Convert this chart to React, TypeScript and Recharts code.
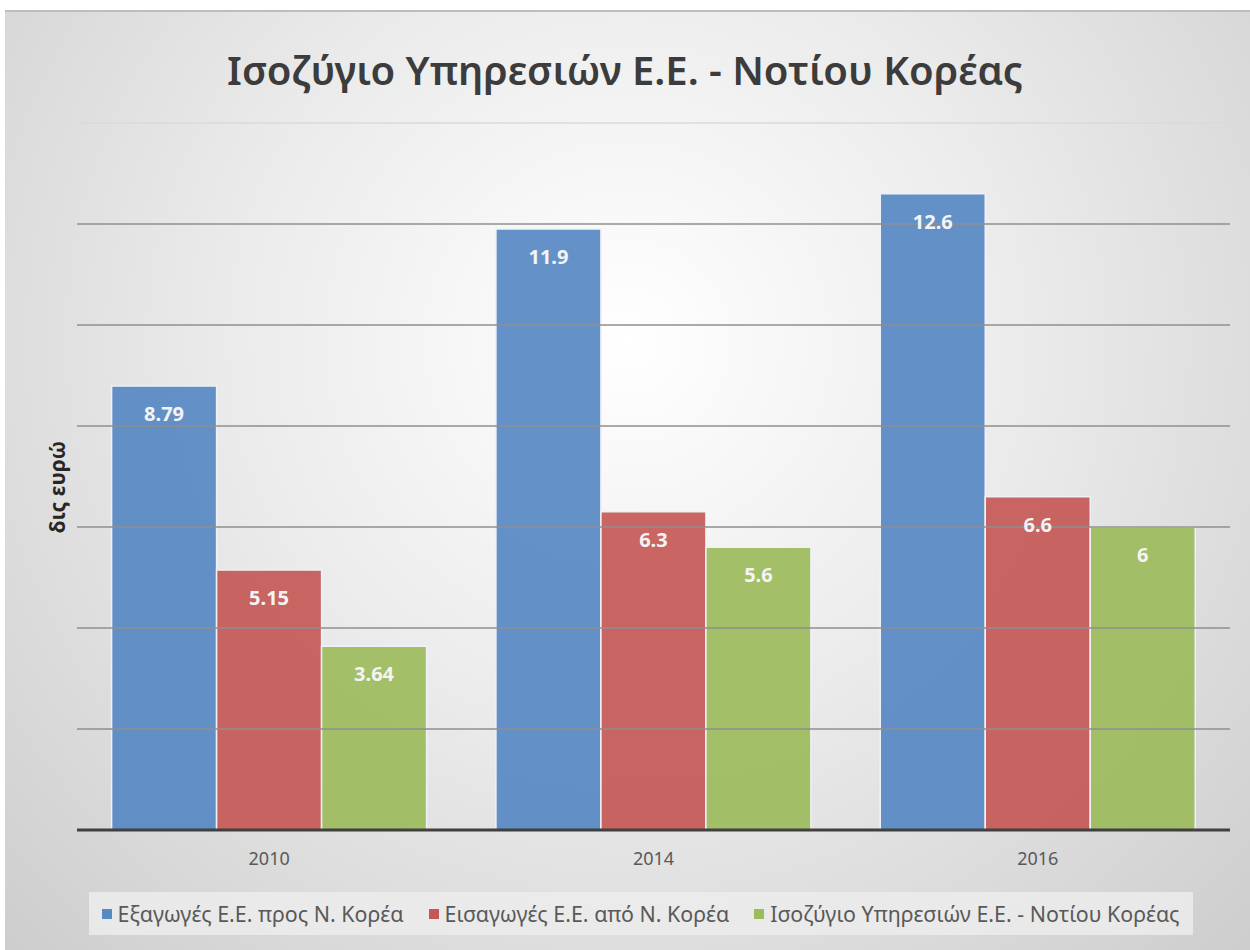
import { BarChart, Bar, XAxis, YAxis, Legend, LabelList, ReferenceLine } from 'recharts'

const years = ['2010', '2014', '2016']
const exportsEU = [8.79, 11.9, 12.6]
const importsEU = [5.15, 6.3, 6.6]
const balance = [3.64, 5.6, 6]
const gridTicks = [2, 4, 6, 8, 10, 12]
const yTitle = 'δις ευρώ'

const seriesNames = {
  exp: 'Εξαγωγές Ε.Ε. προς Ν. Κορέα',
  imp: 'Εισαγωγές Ε.Ε. από Ν. Κορέα',
  bal: 'Ισοζύγιο Υπηρεσιών Ε.Ε. - Νοτίου Κορέας',
}

const data = years.map((y, i) => ({ year: y, exp: exportsEU[i], imp: importsEU[i], bal: balance[i] }))

const FONT = '"Noto Sans", sans-serif'
const colors = { exp: '#5789c3', imp: '#c45856', bal: '#9cbb5c' }

function ChartLegend() {
  const items = [
    { key: 'exp', label: seriesNames.exp },
    { key: 'imp', label: seriesNames.imp },
    { key: 'bal', label: seriesNames.bal },
  ] as const
  return (
    <div style={{
      display: 'flex', alignItems: 'center', gap: 25, background: 'rgba(236,236,236,0.85)',
      height: 43, padding: '0 13px', fontFamily: FONT, fontSize: 21.4, color: '#595959', margin: '0 auto', width: 'fit-content',
      position: 'relative', left: -13,
    }}>
      {items.map(it => (
        <span key={it.key} style={{ display: 'flex', alignItems: 'center', gap: 6 }}>
          <span style={{ width: 10, height: 10, background: colors[it.key], display: 'inline-block' }} />
          {it.label}
        </span>
      ))}
    </div>
  )
}

export default function App() {
  return (
    <div style={{ position: 'absolute', left: 0, top: 0, width: 1250, height: 950, background: '#fff' }}>
      <div style={{
        position: 'absolute', left: 5, top: 10, width: 1245, height: 940,
        background: 'radial-gradient(ellipse at 50% 35%, #ffffff 0%, #ebebeb 45%, #cdcdcd 100%)',
        borderTop: '2px solid #bdbdbd',
      }} />
      <div style={{
        position: 'absolute', left: 0, top: 42, width: 1250, textAlign: 'center',
        fontFamily: FONT, fontSize: 40, fontWeight: 600, color: '#3c3c3c',
      }}>
        Ισοζύγιο Υπηρεσιών Ε.Ε. - Νοτίου Κορέας
      </div>
      <div style={{
        position: 'absolute', left: 57, top: 487, transform: 'translate(-50%, -50%) rotate(-90deg)',
        fontFamily: FONT, fontSize: 21, fontWeight: 700, color: '#262626', whiteSpace: 'nowrap', lineHeight: 1,
      }}>
        {yTitle}
      </div>
      <div style={{ position: 'absolute', left: 0, top: 0 }}>
        <BarChart width={1250} height={950} data={data} barGap={0} barCategoryGap="9%"
          margin={{ top: 123, right: 20, left: 77, bottom: 15 }}>
          <YAxis hide domain={[0, 14]} />
          <XAxis dataKey="year" height={62} tickLine={false} axisLine={{ stroke: '#404040', strokeWidth: 3 }}
            tick={{ fontFamily: FONT, fontSize: 18, fill: '#595959' }} tickMargin={16} />
          <ReferenceLine y={14} stroke="#dadada" strokeWidth={1.5} />
          {gridTicks.map(t => (
            <ReferenceLine key={t} y={t} stroke="#8f8f8f" strokeWidth={1.5} />
          ))}
          <Legend verticalAlign="bottom" height={43} content={<ChartLegend />} />
          {(['exp', 'imp', 'bal'] as const).map(k => (
            <Bar key={k} dataKey={k} name={seriesNames[k]} fill={colors[k]} fillOpacity={0.92} stroke="#eef2f6" strokeWidth={1.5}
              isAnimationActive={false}>
              <LabelList dataKey={k} position="insideTop" offset={21} fill="#f4f4f4" fontSize={20} fontWeight="bold" fontFamily={FONT} />
            </Bar>
          ))}
        </BarChart>
      </div>
    </div>
  )
}
